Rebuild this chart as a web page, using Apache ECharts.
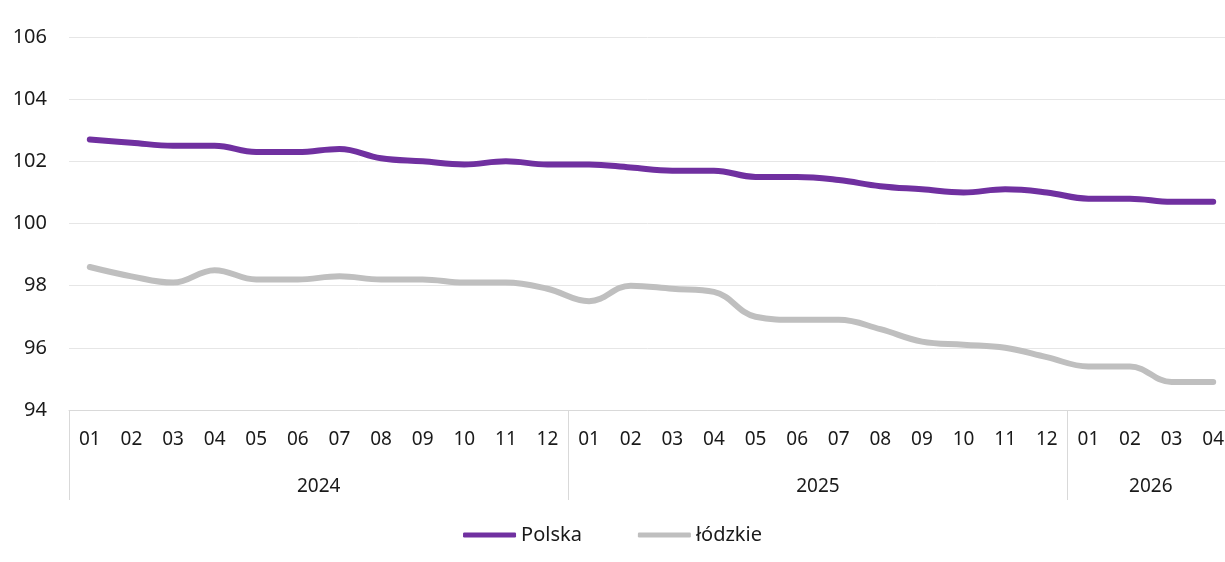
<!DOCTYPE html>
<html lang="pl">
<head>
    <meta charset="UTF-8">
    <title>Polska / łódzkie</title>
    <script src="https://cdn.jsdelivr.net/npm/echarts@6/dist/echarts.min.js"></script>
    <style>
        html, body { margin: 0; padding: 0; background: #fff; }
        #chart { width: 1225px; height: 562px; }
    </style>
</head>
<body>
<div id="chart"></div>
<script>
    // miesiące i lata
    var months = ['01','02','03','04','05','06','07','08','09','10','11','12',
                  '01','02','03','04','05','06','07','08','09','10','11','12',
                  '01','02','03','04'];
    var years = ['2024', '2025', '2026'];
    var yearLengths = [12, 12, 4];

    var polska = [102.7, 102.6, 102.5, 102.5, 102.3, 102.3, 102.4, 102.1, 102.0, 101.9, 102.0, 101.9,
                  101.9, 101.8, 101.7, 101.7, 101.5, 101.5, 101.4, 101.2, 101.1, 101.0, 101.1, 101.0,
                  100.8, 100.8, 100.7, 100.7];
    var lodzkie = [98.6, 98.3, 98.1, 98.5, 98.2, 98.2, 98.3, 98.2, 98.2, 98.1, 98.1, 97.9,
                   97.5, 98.0, 97.9, 97.8, 97.0, 96.9, 96.9, 96.6, 96.2, 96.1, 96.0, 95.7,
                   95.4, 95.4, 94.9, 94.9];

    // druga oś: granice lat (29 punktów) i podpisy w środku każdego roku
    var yearAxis = [];
    var yearBounds = [0];
    for (var i = 0; i <= months.length; i++) yearAxis.push('');
    var pos = 0;
    for (var k = 0; k < years.length; k++) {
        yearAxis[pos + yearLengths[k] / 2] = years[k];
        pos += yearLengths[k];
        yearBounds.push(pos);
    }

    var font = '"Noto Sans", "Open Sans", sans-serif';
    var chart = echarts.init(document.getElementById('chart'));
    var option = {
        animation: false,
        textStyle: { fontFamily: font },
        // wykres w oryginale jest przycięty z prawej strony
        grid: { left: 69, width: 1165, top: 37, bottom: 152, outerBoundsMode: 'none', containLabel: false },
        legend: {
            bottom: 12,
            left: 'center',
            icon: 'roundRect',
            itemWidth: 53,
            itemHeight: 5,
            itemGap: 56,
            textStyle: { fontSize: 20, color: '#1a1a1a', fontFamily: font },
            data: ['Polska', 'łódzkie']
        },
        xAxis: [
            {
                type: 'category',
                data: months,
                boundaryGap: true,
                axisLine: { lineStyle: { color: '#d9d9d9', width: 1 } },
                axisTick: { show: false },
                axisLabel: { interval: 0, margin: 20, fontSize: 19, color: '#1a1a1a' }
            },
            {
                type: 'category',
                data: yearAxis,
                boundaryGap: false,
                position: 'bottom',
                axisLine: { show: false },
                axisTick: {
                    show: true,
                    length: 90,
                    interval: function (idx) { return yearBounds.indexOf(idx) >= 0; },
                    lineStyle: { color: '#d9d9d9', width: 1 }
                },
                axisLabel: { interval: 0, margin: 67, fontSize: 19, color: '#1a1a1a' }
            }
        ],
        yAxis: {
            type: 'value',
            min: 94,
            max: 106,
            interval: 2,
            axisLine: { show: false },
            axisTick: { show: false },
            axisLabel: { margin: 22, fontSize: 20, color: '#1a1a1a' },
            splitLine: { lineStyle: { color: '#e6e6e6', width: 1 } }
        },
        series: [
            {
                name: 'Polska',
                type: 'line',
                data: polska,
                smooth: 0.4,
                symbol: 'none',
                lineStyle: { color: '#7030a0', width: 6, cap: 'round' },
                itemStyle: { color: '#7030a0' }
            },
            {
                name: 'łódzkie',
                type: 'line',
                data: lodzkie,
                smooth: 0.4,
                symbol: 'none',
                lineStyle: { color: '#bfbfbf', width: 6, cap: 'round' },
                itemStyle: { color: '#bfbfbf' }
            }
        ]
    };
    chart.setOption(option);
</script>
</body>
</html>
